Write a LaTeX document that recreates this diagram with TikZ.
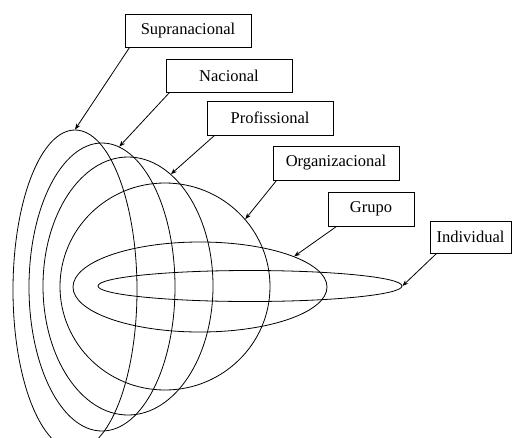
\documentclass[tikz,border=0pt]{standalone}
\usepackage{fontspec}
\setmainfont{LiberationSerif}[Extension=.ttf, UprightFont=*-Regular, BoldFont=*-Bold]
\usetikzlibrary{shapes.geometric,arrows.meta}
\begin{document}
\begin{tikzpicture}[x=1pt,y=-1pt,
  lbl/.style={draw, line width=0.8pt, rectangle, inner sep=0pt, minimum height=33pt,
    font=\rmfamily\fontsize{16.5}{18}\selectfont},
  ring/.style={draw, line width=0.8pt, ellipse, inner sep=0pt},
  pointer/.style={draw, line width=0.8pt, -{Stealth[length=6pt,width=4.5pt]}}]
\clip (0,0) rectangle (512,437);
% ellipses
\node[ring, minimum width=124pt, minimum height=320pt] (sup) at (75,290) {};
\node[ring, minimum width=146pt, minimum height=288pt] (nac) at (102,287) {};
\node[ring, minimum width=170pt, minimum height=258pt] (pro) at (128,286) {};
\node[ring, minimum width=210pt, minimum height=207pt] (org) at (165,286.5) {};
\node[ring, minimum width=254pt, minimum height=90pt] (gru) at (200,287) {};
\node[ring, minimum width=304pt, minimum height=31pt] (ind) at (250,286) {};
% boxes
\node[lbl, minimum width=126pt] (bsup) at (188,30.5) {Supranacional};
\node[lbl, minimum width=126pt] (bnac) at (229,75.5) {Nacional};
\node[lbl, minimum width=126pt, minimum height=34pt] (bpro) at (270,118) {Profissional};
\node[lbl, minimum width=126pt, minimum height=34pt] (borg) at (336,163) {Organizacional};
\node[lbl, minimum width=86pt, minimum height=34pt] (bgru) at (371,209) {Grupo};
\node[lbl, minimum width=81pt, minimum height=32pt] (bind) at (470.5,237) {Individual};
% arrows
\draw[pointer] ([xshift=5pt]bsup.south west) -- (sup.90);
\draw[pointer] ([xshift=4pt]bnac.south west) -- (nac.83);
\draw[pointer] ([xshift=8pt]bpro.south west) -- (pro.69);
\draw[pointer] ([xshift=4pt]borg.south west) -- (org.40);
\draw[pointer] ([xshift=9pt]bgru.south west) -- (gru.18);
\draw[pointer] ([xshift=7pt]bind.south west) -- (ind.east);
\end{tikzpicture}
\end{document}
